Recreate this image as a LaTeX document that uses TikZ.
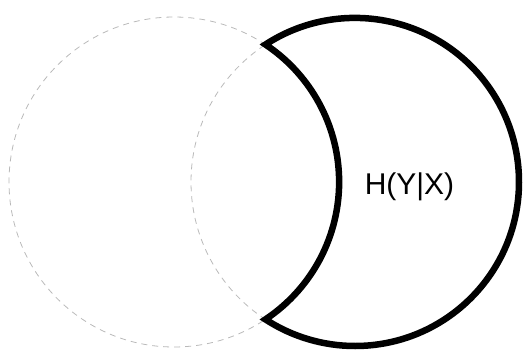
\documentclass[tikz,border=0pt]{standalone}
\usepackage{fontspec}
\setmainfont{Liberation Sans}
\usetikzlibrary{calc}
\tikzset{ghost/.style={draw=gray!55,line width=.8pt,dash pattern=on 6pt off 5pt},
  moon/.style={draw=black,line width=6.5pt,line join=miter,miter limit=20},
  tag/.style={font=\fontsize{30}{35}\selectfont,inner sep=0pt}}

\begin{document}
\begin{tikzpicture}[x=1pt,y=-1pt]
  \path[use as bounding box] (0,0) rectangle (528,351);
  \coordinate (cx) at (174,182);
  \coordinate (cy) at (355,182);
  \draw[ghost] (cx) circle[radius=165];
  \draw[ghost] (cy) circle[radius=164];
  % right circle minus left circle, start on the smooth side
  \draw[moon] ($(cy)+(0:164)$) arc[start angle=0,end angle=123.1,radius=164]
    arc[start angle=56.4,end angle=-56.4,radius=165]
    arc[start angle=-123.1,end angle=10,radius=164];
  \node[tag] (hyx) at (409.5,187) {H(Y|X)};
\end{tikzpicture}
\end{document}
